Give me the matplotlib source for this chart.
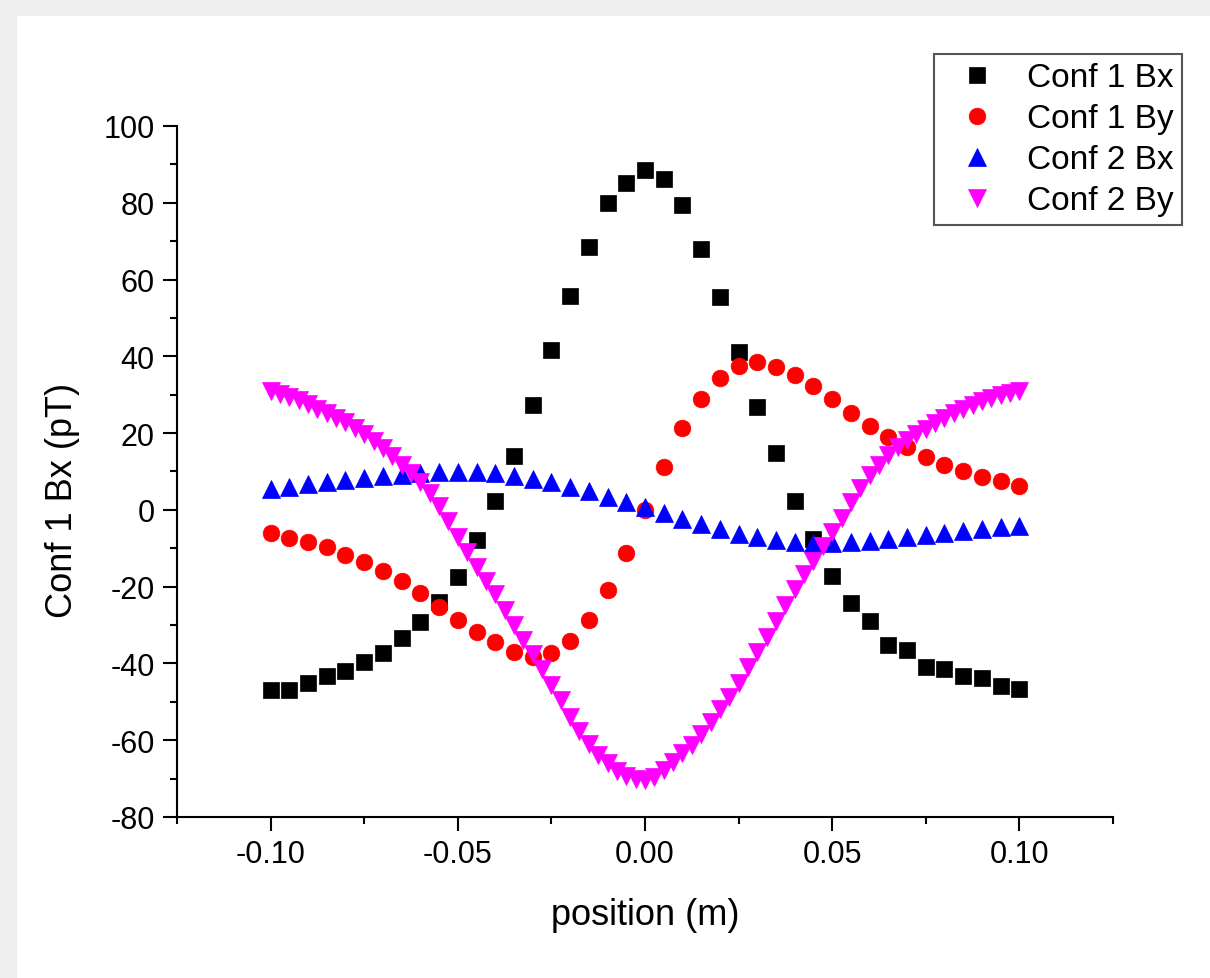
import numpy as np
import matplotlib
matplotlib.use("Agg")
import matplotlib.pyplot as plt
from matplotlib.patches import Rectangle
from matplotlib.ticker import MultipleLocator, FormatStrFormatter

# positions along the line (m)
pos_coarse = np.round(np.arange(-0.1, 0.1001, 0.005), 4)
pos_fine = np.round(np.arange(-0.1, 0.1001, 0.0025), 4)

# field values (pT)
conf1_bx = [-47, -46.8, -45, -43.3, -42, -39.6, -37.3, -33.4, -29.2, -23.9,
            -17.6, -7.8, 2.2, 14.1, 27.2, 41.6, 55.6, 68.4, 79.9, 85.1,
            88.6,
            86.1, 79.4, 67.9, 55.4, 41, 26.8, 14.8, 2.4, -7.5, -17.3,
            -24.3, -28.9, -35.1, -36.5, -40.9, -41.4, -43.2, -43.8, -45.8, -46.6]

conf1_by = [-6, -7.3, -8.3, -9.6, -11.7, -13.5, -15.9, -18.5, -21.6, -25.2,
            -28.7, -31.8, -34.4, -37, -38.3, -37.2, -34.1, -28.7, -20.8, -11.2,
            0,
            11.2, 21.4, 28.9, 34.4, 37.5, 38.5, 37.3, 35.2, 32.3, 28.9,
            25.3, 21.9, 19, 16.5, 13.8, 11.7, 10.2, 8.6, 7.6, 6.3]

conf2_bx = [5.4, 6, 6.8, 7.2, 7.8, 8.3, 8.9, 9.1, 9.6, 9.8,
            9.8, 9.8, 9.6, 8.7, 8.1, 7.2, 6, 4.8, 3.4, 2,
            0.8,
            -0.8, -2.3, -3.7, -5, -6.2, -7.1, -7.8, -8.3, -8.7, -8.7,
            -8.4, -8, -7.6, -7, -6.5, -6, -5.4, -5, -4.5, -4.1]

conf2_by = [31.0, 30.3, 29.5, 28.6, 27.6, 26.4, 25.2, 24.0, 22.8, 21.2,
            19.8, 18.0, 16.0, 14.0, 11.8, 9.5, 7.3, 4.5, 1.0, -3.0,
            -7.0, -11, -15, -18.5, -22, -26, -30, -33.8, -37.5, -41.5,
            -45.5, -49.5, -54, -57.5, -61, -63.8, -66, -68, -69.3, -70,
            -70.3,
            -69.6, -67.8, -65.7, -63.3, -61.2, -58.5, -55.3, -52, -48.7, -45,
            -41, -37, -33, -29, -24.8, -20.6, -16.8, -13.2, -9.5, -5.8,
            -2, 2, 5.8, 9.2, 11.8, 14.2, 16.3, 18.1, 19.8, 21.1,
            22.7, 24, 25.2, 26.3, 27.3, 28.3, 29.1, 29.9, 30.5, 31.0]

plt.rcParams['font.family'] = ['Liberation Sans', 'DejaVu Sans']
plt.rcParams['axes.unicode_minus'] = False

fig = plt.figure(figsize=(12.1, 9.79), dpi=100, facecolor='#eeeeee')
# white page area (screenshot look)
page = Rectangle((17 / 1210, 0), 1, 962 / 979, transform=fig.transFigure,
                 facecolor='white', edgecolor='none', zorder=-10)
fig.patches.append(page)

ax = fig.add_axes([0.1463, 0.1645, 0.7735, 0.7058])
ax.set_facecolor('white')

ax.plot(pos_coarse, conf1_bx, 's', color='black', ms=11, mew=0.5, label='Conf 1 Bx')
ax.plot(pos_coarse, conf1_by, 'o', color='red', ms=12, mew=0.5, label='Conf 1 By')
ax.plot(pos_coarse, conf2_bx, '^', color='blue', ms=13.5, mew=0.5, label='Conf 2 Bx')
ax.plot(pos_fine, conf2_by, 'v', color='magenta', ms=13.5, mew=0.5, label='Conf 2 By')

ax.set_xlim(-0.125, 0.125)
ax.set_ylim(-80, 100)

for side in ['top', 'right']:
    ax.spines[side].set_visible(False)
for side in ['left', 'bottom']:
    ax.spines[side].set_linewidth(1.5)

ax.xaxis.set_major_locator(MultipleLocator(0.05))
ax.xaxis.set_minor_locator(MultipleLocator(0.025))
ax.xaxis.set_major_formatter(FormatStrFormatter('%.2f'))
ax.yaxis.set_major_locator(MultipleLocator(20))
ax.yaxis.set_minor_locator(MultipleLocator(10))

ax.tick_params(which='both', direction='out', width=1.5, labelsize=22, pad=6)
ax.tick_params(which='major', length=10)
ax.tick_params(which='minor', length=5)

ax.set_xlabel('position (m)', fontsize=26, labelpad=20)
ax.set_ylabel('Conf 1 Bx (pT)', fontsize=26)
ax.yaxis.set_label_coords(-0.104, 0.46)

leg = ax.legend(loc='upper right', bbox_to_anchor=(1182 / 1210, 1 - 55 / 979),
                bbox_transform=fig.transFigure, fontsize=24, numpoints=1,
                fancybox=False, framealpha=1, edgecolor='#555555',
                borderpad=0.25, labelspacing=0.3, handlelength=2.1,
                handletextpad=0.45, borderaxespad=0)
leg.get_frame().set_linewidth(1.5)

plt.savefig('out.png', dpi=100, facecolor=fig.get_facecolor())
